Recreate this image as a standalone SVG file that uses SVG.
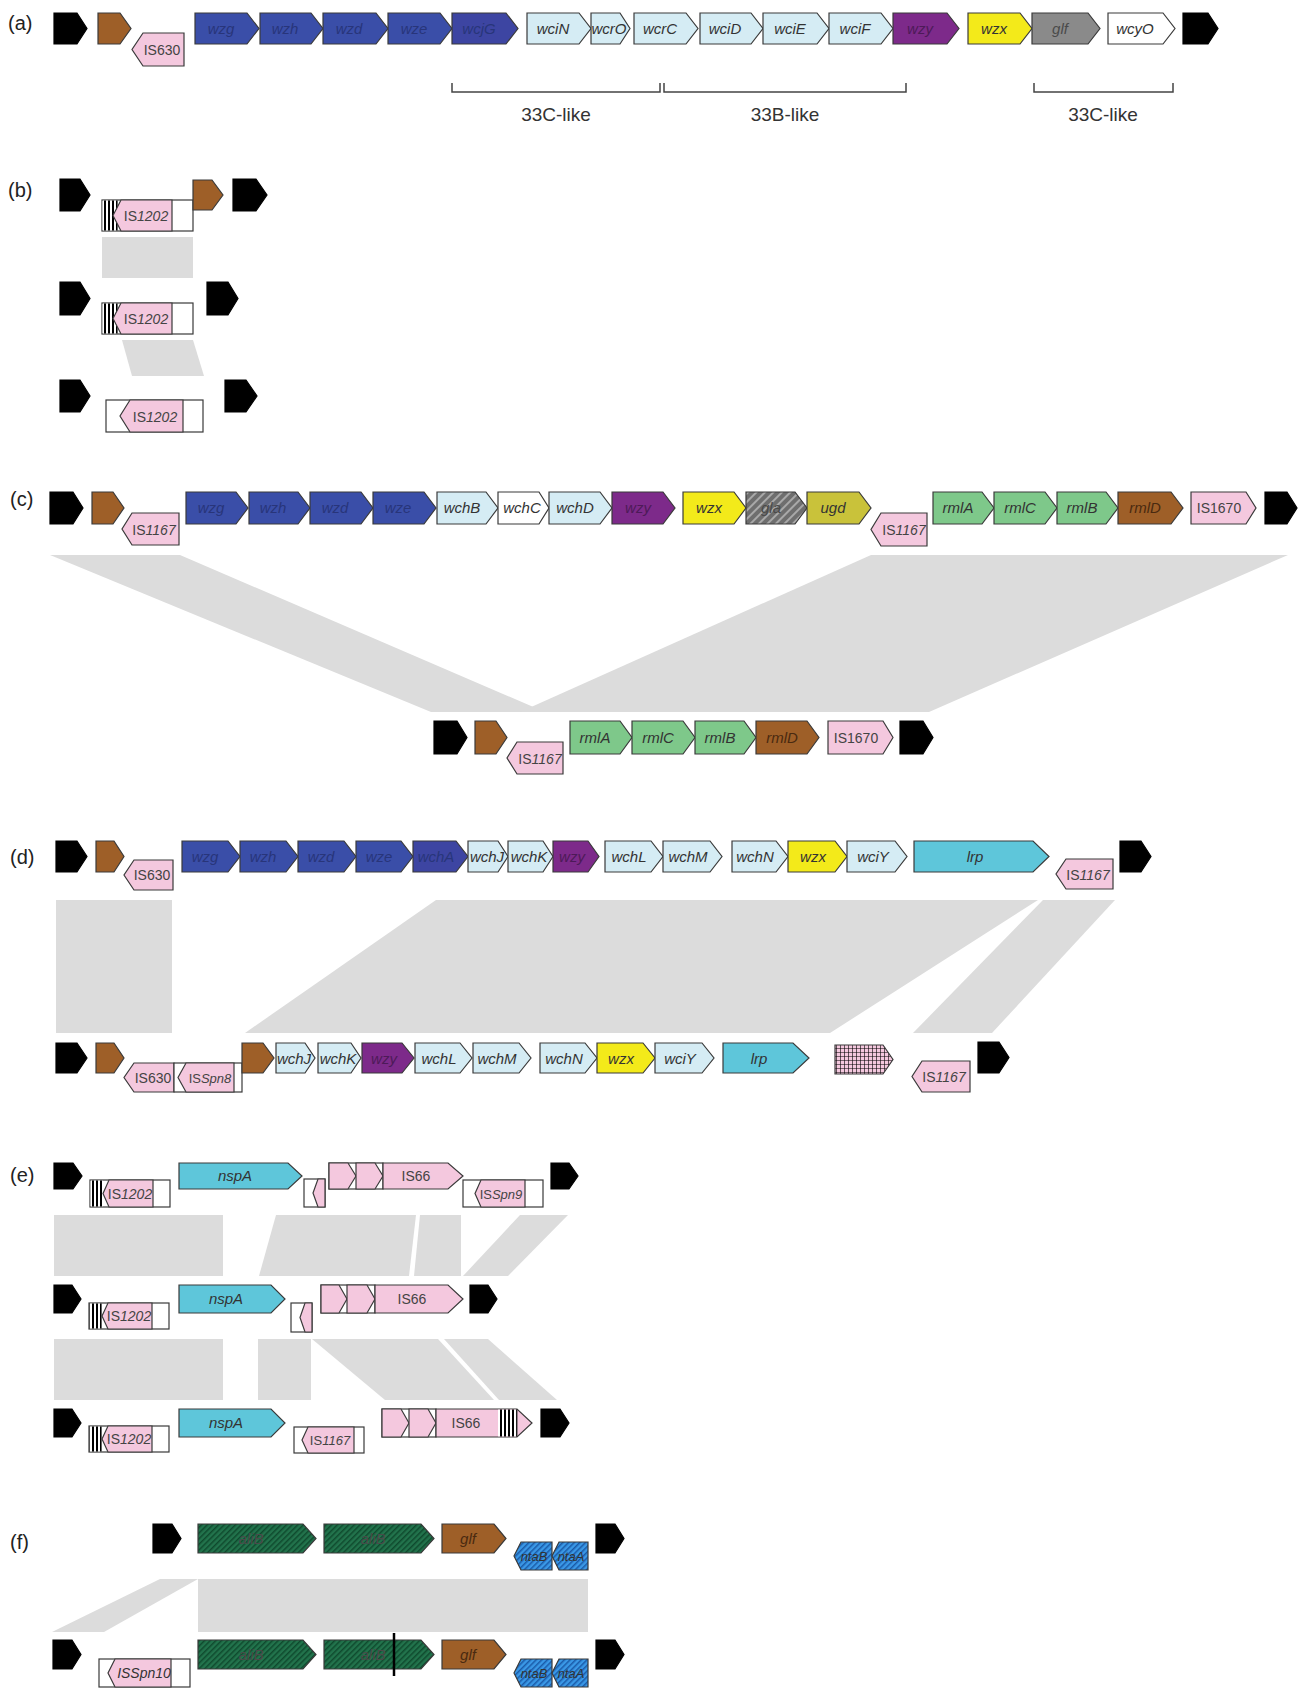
<svg xmlns="http://www.w3.org/2000/svg" width="1300" height="1690" viewBox="0 0 1300 1690">
<defs>
<style>
polygon,rect.o{stroke:#3a3a3a;stroke-width:1.2}
.k{fill:#000;stroke:#000}
.br{fill:#9e5f28}
.pk{fill:#f4c8de}
.db{fill:#3a4ea8}
.dp{fill:#3d45a2}
.lb{fill:#d5ecf4}
.pu{fill:#7d2a8a}
.ye{fill:#f3ea1a}
.gy{fill:#8a8a8a}
.wh{fill:#fff}
.gr{fill:#7ec88a}
.ol{fill:#c9c23a}
.te{fill:#5ec6da}
.band{fill:#dcdcdc;stroke:none}
text{font-family:'Liberation Sans',Arial,sans-serif}
.t{font-size:15px;font-style:italic;text-anchor:middle;fill:#333}
.td{font-size:15px;font-style:italic;text-anchor:middle;fill:#28357a}
.tp{font-size:15px;font-style:italic;text-anchor:middle;fill:#4d1a58}
.tg{font-size:15px;font-style:italic;text-anchor:middle;fill:#4a4a4a}
.ti{font-size:14px;text-anchor:middle;fill:#444}
.pl{font-size:20px;fill:#222}
.bl{font-size:19px;text-anchor:middle;fill:#333}
.brk{fill:none;stroke:#444;stroke-width:1.5}
</style>
<pattern id="vs" patternUnits="userSpaceOnUse" width="4" height="10"><rect width="4" height="10" fill="#fff"/><rect width="2" height="10" fill="#000"/></pattern>
<pattern id="hg" patternUnits="userSpaceOnUse" width="6" height="6" patternTransform="rotate(45)"><rect width="6" height="6" fill="#6e6e6e"/><rect width="2" height="6" fill="#a8a8a8"/></pattern>
<pattern id="ha" patternUnits="userSpaceOnUse" width="4" height="4" patternTransform="rotate(45)"><rect width="4" height="4" fill="#22734c"/><rect width="1.5" height="4" fill="#0f4a2e"/></pattern>
<pattern id="hn" patternUnits="userSpaceOnUse" width="4" height="4" patternTransform="rotate(45)"><rect width="4" height="4" fill="#3a98e6"/><rect width="1.5" height="4" fill="#1a5aa8"/></pattern>
<pattern id="grid" patternUnits="userSpaceOnUse" width="4" height="4"><rect width="4" height="4" fill="#f4c8de"/><path d="M0,0H4M0,0V4" stroke="#000" stroke-width="1.2"/></pattern>
</defs>
<rect width="1300" height="1690" fill="#fff"/>

<g id="bands">
<polygon class="band" points="102,237 193,237 193,278 102,278"/>
<polygon class="band" points="122,340 193,340 204,376 132,376"/>
<polygon class="band" points="50,555 180,555 545,712 431,712"/>
<polygon class="band" points="871,555 1288,555 929,712 520,712"/>
<polygon class="band" points="56,900 172,900 172,1033 56,1033"/>
<polygon class="band" points="436,900 1038,900 830,1033 245,1033"/>
<polygon class="band" points="1043,900 1115,900 992,1033 913,1033"/>
<polygon class="band" points="54,1215 223,1215 223,1276 54,1276"/>
<polygon class="band" points="276,1215 416,1215 409,1276 259,1276"/>
<polygon class="band" points="420,1215 461,1215 461,1276 414,1276"/>
<polygon class="band" points="520,1215 568,1215 508,1276 463,1276"/>
<polygon class="band" points="54,1339 223,1339 223,1400 54,1400"/>
<polygon class="band" points="258,1339 311,1339 311,1400 258,1400"/>
<polygon class="band" points="312,1339 438,1339 494,1400 385,1400"/>
<polygon class="band" points="444,1339 488,1339 557,1400 499,1400"/>
<polygon class="band" points="160,1579 198,1579 104,1632 52,1632"/>
<polygon class="band" points="198,1579 588,1579 588,1632 198,1632"/>
</g>

<g id="panel-a">
<text class="pl" x="8" y="30">(a)</text>
<polygon class="k" points="54,13 77,13 87,28.5 77,44 54,44"/>
<polygon class="br" points="98,13 120,13 131,28.5 120,44 98,44"/>
<g id="a-IS630"><polygon class="pk" points="184,33 143,33 132,49.5 143,66 184,66"/><text class="ti" x="162" y="55">IS630</text></g>
<g id="a-wzg"><polygon class="db" points="195,13 247,13 259,28.5 247,44 195,44"/><text class="td" x="221" y="34">wzg</text></g>
<g id="a-wzh"><polygon class="db" points="260,13 311,13 323,28.5 311,44 260,44"/><text class="td" x="285" y="34">wzh</text></g>
<g id="a-wzd"><polygon class="db" points="323,13 376,13 388,28.5 376,44 323,44"/><text class="td" x="349" y="34">wzd</text></g>
<g id="a-wze"><polygon class="db" points="388,13 440,13 452,28.5 440,44 388,44"/><text class="td" x="414" y="34">wze</text></g>
<g id="a-wcjG"><polygon class="dp" points="452,13 506,13 518,28.5 506,44 452,44"/><text class="td" x="479" y="34">wcjG</text></g>
<g id="a-wciN"><polygon class="lb" points="527,13 579,13 591,28.5 579,44 527,44"/><text class="t" x="553" y="34">wciN</text></g>
<g id="a-wcrO"><polygon class="lb" points="591,13 620,13 630,28.5 620,44 591,44"/><text class="t" x="609" y="34">wcrO</text></g>
<g id="a-wcrC"><polygon class="lb" points="634,13 686,13 698,28.5 686,44 634,44"/><text class="t" x="660" y="34">wcrC</text></g>
<g id="a-wciD"><polygon class="lb" points="700,13 751,13 763,28.5 751,44 700,44"/><text class="t" x="725" y="34">wciD</text></g>
<g id="a-wciE"><polygon class="lb" points="763,13 817,13 829,28.5 817,44 763,44"/><text class="t" x="790" y="34">wciE</text></g>
<g id="a-wciF"><polygon class="lb" points="829,13 881,13 893,28.5 881,44 829,44"/><text class="t" x="855" y="34">wciF</text></g>
<g id="a-wzy"><polygon class="pu" points="893,13 947,13 959,28.5 947,44 893,44"/><text class="tp" x="920" y="34">wzy</text></g>
<g id="a-wzx"><polygon class="ye" points="968,13 1020,13 1032,28.5 1020,44 968,44"/><text class="t" x="994" y="34">wzx</text></g>
<g id="a-glf"><polygon class="gy" points="1032,13 1088,13 1100,28.5 1088,44 1032,44"/><text class="tg" x="1060" y="34">glf</text></g>
<g id="a-wcyO"><polygon class="wh" points="1108,13 1163,13 1175,28.5 1163,44 1108,44"/><text class="t" x="1135" y="34">wcyO</text></g>
<polygon class="k" points="1183,13 1208,13 1218,28.5 1208,44 1183,44"/>
<path class="brk" d="M452,83V92H660V83M664,83V92H906V83M1034,83V92H1173V83"/>
<text class="bl" x="556" y="121">33C-like</text>
<text class="bl" x="785" y="121">33B-like</text>
<text class="bl" x="1103" y="121">33C-like</text>
</g>

<g id="panel-b">
<text class="pl" x="8" y="197">(b)</text>
<polygon class="k" points="60,179 80,179 90,195 80,211 60,211"/>
<g id="b1-IS1202"><rect class="o" x="102" y="200" width="91" height="31" fill="#fff"/><rect x="102.6" y="200.6" width="15" height="29.8" fill="url(#vs)"/><polygon class="pk" points="172,200 121,200 113,215.5 121,231 172,231"/><text class="ti" x="146" y="221">IS<tspan font-style="italic">1202</tspan></text></g>
<polygon class="br" points="193,180 212,180 223,195 212,210 193,210"/>
<polygon class="k" points="233,179 256,179 267,195 256,211 233,211"/>
<polygon class="k" points="60,282 80,282 90,298.5 80,315 60,315"/>
<g id="b2-IS1202"><rect class="o" x="102" y="303" width="91" height="31" fill="#fff"/><rect x="102.6" y="303.6" width="15" height="29.8" fill="url(#vs)"/><polygon class="pk" points="172,303 121,303 113,318.5 121,334 172,334"/><text class="ti" x="146" y="324">IS<tspan font-style="italic">1202</tspan></text></g>
<polygon class="k" points="207,282 228,282 238,298.5 228,315 207,315"/>
<polygon class="k" points="60,380 80,380 90,396 80,412 60,412"/>
<g id="b3-IS1202"><rect class="o" x="106" y="400" width="97" height="32" fill="#fff"/><polygon class="pk" points="183,400 130,400 120,416 130,432 183,432"/><text class="ti" x="155" y="422">IS<tspan font-style="italic">1202</tspan></text></g>
<polygon class="k" points="225,380 246,380 257,396 246,412 225,412"/>
</g>

<g id="panel-c">
<text class="pl" x="10" y="506">(c)</text>
<polygon class="k" points="50,492 73,492 83,508 73,524 50,524"/>
<polygon class="br" points="92,492 113,492 124,508 113,524 92,524"/>
<g id="c-IS1167a"><polygon class="pk" points="179,513 132,513 122,529 132,545 179,545"/><text class="ti" x="154" y="535">IS<tspan font-style="italic">1167</tspan></text></g>
<g id="c-wzg"><polygon class="db" points="186,492 236,492 248,508 236,524 186,524"/><text class="td" x="211" y="513">wzg</text></g>
<g id="c-wzh"><polygon class="db" points="249,492 298,492 310,508 298,524 249,524"/><text class="td" x="273" y="513">wzh</text></g>
<g id="c-wzd"><polygon class="db" points="310,492 361,492 373,508 361,524 310,524"/><text class="td" x="335" y="513">wzd</text></g>
<g id="c-wze"><polygon class="db" points="373,492 424,492 436,508 424,524 373,524"/><text class="td" x="398" y="513">wze</text></g>
<g id="c-wchB"><polygon class="lb" points="437,492 486,492 498,508 486,524 437,524"/><text class="t" x="462" y="513">wchB</text></g>
<g id="c-wchC"><polygon class="wh" points="498,492 539,492 549,508 539,524 498,524"/><text class="t" x="522" y="513">wchC</text></g>
<g id="c-wchD"><polygon class="lb" points="549,492 600,492 612,508 600,524 549,524"/><text class="t" x="575" y="513">wchD</text></g>
<g id="c-wzy"><polygon class="pu" points="612,492 663,492 675,508 663,524 612,524"/><text class="tp" x="638" y="513">wzy</text></g>
<g id="c-wzx"><polygon class="ye" points="683,492 734,492 746,508 734,524 683,524"/><text class="t" x="709" y="513">wzx</text></g>
<g id="c-gla"><polygon fill="url(#hg)" points="746,492 795,492 807,508 795,524 746,524"/><text class="tg" x="771" y="513">gla</text></g>
<g id="c-ugd"><polygon class="ol" points="807,492 859,492 871,508 859,524 807,524"/><text class="t" x="833" y="513">ugd</text></g>
<g id="c-IS1167b"><polygon class="pk" points="927,513 881,513 871,529.5 881,546 927,546"/><text class="ti" x="904" y="535">IS<tspan font-style="italic">1167</tspan></text></g>
<g id="c-rmlA"><polygon class="gr" points="933,492 982,492 994,508 982,524 933,524"/><text class="t" x="958" y="513">rmlA</text></g>
<g id="c-rmlC"><polygon class="gr" points="994,492 1045,492 1057,508 1045,524 994,524"/><text class="t" x="1020" y="513">rmlC</text></g>
<g id="c-rmlB"><polygon class="gr" points="1057,492 1106,492 1118,508 1106,524 1057,524"/><text class="t" x="1082" y="513">rmlB</text></g>
<g id="c-rmlD"><polygon class="br" points="1118,492 1171,492 1183,508 1171,524 1118,524"/><text class="t" x="1145" y="513" style="fill:#4a2a10">rmlD</text></g>
<g id="c-IS1670"><polygon class="pk" points="1191,492 1246,492 1256,508 1246,524 1191,524"/><text class="ti" x="1219" y="513">IS1670</text></g>
<polygon class="k" points="1265,492 1287,492 1297,508 1287,524 1265,524"/>

<polygon class="k" points="434,721 457,721 467,737.5 457,754 434,754"/>
<polygon class="br" points="475,721 496,721 507,737.5 496,754 475,754"/>
<g id="c2-IS1167"><polygon class="pk" points="563,742 517,742 507,758 517,774 563,774"/><text class="ti" x="540" y="764">IS<tspan font-style="italic">1167</tspan></text></g>
<g id="c2-rmlA"><polygon class="gr" points="570,721 620,721 632,737.5 620,754 570,754"/><text class="t" x="595" y="743">rmlA</text></g>
<g id="c2-rmlC"><polygon class="gr" points="632,721 683,721 695,737.5 683,754 632,754"/><text class="t" x="658" y="743">rmlC</text></g>
<g id="c2-rmlB"><polygon class="gr" points="695,721 744,721 756,737.5 744,754 695,754"/><text class="t" x="720" y="743">rmlB</text></g>
<g id="c2-rmlD"><polygon class="br" points="756,721 807,721 819,737.5 807,754 756,754"/><text class="t" x="782" y="743" style="fill:#4a2a10">rmlD</text></g>
<g id="c2-IS1670"><polygon class="pk" points="828,721 883,721 893,737.5 883,754 828,754"/><text class="ti" x="856" y="743">IS1670</text></g>
<polygon class="k" points="900,721 923,721 933,737.5 923,754 900,754"/>
</g>

<g id="panel-d">
<text class="pl" x="10" y="864">(d)</text>
<polygon class="k" points="56,841 77,841 87,856.5 77,872 56,872"/>
<polygon class="br" points="96,841 114,841 124,856.5 114,872 96,872"/>
<g id="d-IS630"><polygon class="pk" points="173,860 134,860 124,875 134,890 173,890"/><text class="ti" x="152" y="880">IS630</text></g>
<g id="d-wzg"><polygon class="db" points="182,841 228,841 240,856.5 228,872 182,872"/><text class="td" x="205" y="862">wzg</text></g>
<g id="d-wzh"><polygon class="db" points="240,841 286,841 298,856.5 286,872 240,872"/><text class="td" x="263" y="862">wzh</text></g>
<g id="d-wzd"><polygon class="db" points="298,841 344,841 356,856.5 344,872 298,872"/><text class="td" x="321" y="862">wzd</text></g>
<g id="d-wze"><polygon class="db" points="356,841 401,841 413,856.5 401,872 356,872"/><text class="td" x="379" y="862">wze</text></g>
<g id="d-wchA"><polygon class="dp" points="413,841 456,841 468,856.5 456,872 413,872"/><text class="td" x="436" y="862">wchA</text></g>
<g id="d-wchJ"><polygon class="lb" points="468,841 498,841 508,856.5 498,872 468,872"/><text class="t" x="487" y="862">wchJ</text></g>
<g id="d-wchK"><polygon class="lb" points="508,841 543,841 553,856.5 543,872 508,872"/><text class="t" x="529" y="862">wchK</text></g>
<g id="d-wzy"><polygon class="pu" points="553,841 588,841 599,856.5 588,872 553,872"/><text class="tp" x="572" y="862">wzy</text></g>
<g id="d-wchL"><polygon class="lb" points="605,841 651,841 663,856.5 651,872 605,872"/><text class="t" x="629" y="862">wchL</text></g>
<g id="d-wchM"><polygon class="lb" points="663,841 710,841 722,856.5 710,872 663,872"/><text class="t" x="688" y="862">wchM</text></g>
<g id="d-wchN"><polygon class="lb" points="732,841 776,841 788,856.5 776,872 732,872"/><text class="t" x="755" y="862">wchN</text></g>
<g id="d-wzx"><polygon class="ye" points="788,841 835,841 847,856.5 835,872 788,872"/><text class="t" x="813" y="862">wzx</text></g>
<g id="d-wciY"><polygon class="lb" points="847,841 895,841 907,856.5 895,872 847,872"/><text class="t" x="873" y="862">wciY</text></g>
<g id="d-lrp"><polygon class="te" points="914,841 1033,841 1049,856.5 1033,872 914,872"/><text class="t" x="975" y="862">lrp</text></g>
<g id="d-IS1167"><polygon class="pk" points="1113,859 1066,859 1056,874 1066,889 1113,889"/><text class="ti" x="1088" y="880">IS<tspan font-style="italic">1167</tspan></text></g>
<polygon class="k" points="1120,841 1141,841 1151,856.5 1141,872 1120,872"/>

<polygon class="k" points="56,1043 77,1043 87,1058 77,1073 56,1073"/>
<polygon class="br" points="96,1043 114,1043 124,1058 114,1073 96,1073"/>
<g id="d2-IS630"><polygon class="pk" points="174,1063 134,1063 124,1077.5 134,1092 174,1092"/><text class="ti" x="153" y="1083">IS630</text></g>
<g id="d2-ISSpn8"><rect class="o" x="174" y="1063" width="68" height="29" fill="#fff"/><polygon class="pk" points="234,1063 186,1063 178,1077.5 186,1092 234,1092"/><text class="ti" x="210" y="1083" style="font-size:13px">IS<tspan font-style="italic">Spn8</tspan></text></g>
<polygon class="br" points="242,1043 263,1043 274,1058 263,1073 242,1073"/>
<g id="d2-wchJ"><polygon class="lb" points="276,1043 305,1043 315,1058 305,1073 276,1073"/><text class="t" x="294" y="1064">wchJ</text></g>
<g id="d2-wchK"><polygon class="lb" points="318,1043 351,1043 361,1058 351,1073 318,1073"/><text class="t" x="338" y="1064">wchK</text></g>
<g id="d2-wzy"><polygon class="pu" points="362,1043 402,1043 414,1058 402,1073 362,1073"/><text class="tp" x="384" y="1064">wzy</text></g>
<g id="d2-wchL"><polygon class="lb" points="415,1043 460,1043 472,1058 460,1073 415,1073"/><text class="t" x="439" y="1064">wchL</text></g>
<g id="d2-wchM"><polygon class="lb" points="473,1043 519,1043 531,1058 519,1073 473,1073"/><text class="t" x="497" y="1064">wchM</text></g>
<g id="d2-wchN"><polygon class="lb" points="540,1043 585,1043 597,1058 585,1073 540,1073"/><text class="t" x="564" y="1064">wchN</text></g>
<g id="d2-wzx"><polygon class="ye" points="597,1043 643,1043 655,1058 643,1073 597,1073"/><text class="t" x="621" y="1064">wzx</text></g>
<g id="d2-wciY"><polygon class="lb" points="655,1043 702,1043 714,1058 702,1073 655,1073"/><text class="t" x="680" y="1064">wciY</text></g>
<g id="d2-lrp"><polygon class="te" points="723,1043 793,1043 809,1058 793,1073 723,1073"/><text class="t" x="759" y="1064">lrp</text></g>
<g id="d2-grid"><polygon fill="url(#grid)" points="835,1045 883,1045 893,1059.5 883,1074 835,1074"/></g>
<g id="d2-IS1167"><polygon class="pk" points="970,1061 922,1061 912,1076.5 922,1092 970,1092"/><text class="ti" x="944" y="1082">IS<tspan font-style="italic">1167</tspan></text></g>
<polygon class="k" points="978,1042 999,1042 1009,1057.5 999,1073 978,1073"/>
</g>

<g id="panel-e">
<text class="pl" x="10" y="1182">(e)</text>
<polygon class="k" points="54,1163 73,1163 82,1176 73,1189 54,1189"/>
<g id="e1-IS1202"><rect class="o" x="90" y="1180" width="80" height="27" fill="#fff"/><rect x="90.6" y="1180.6" width="12" height="25.8" fill="url(#vs)"/><polygon class="pk" points="153,1180 109,1180 103,1193.5 109,1207 153,1207"/><text class="ti" x="130" y="1199">IS<tspan font-style="italic">1202</tspan></text></g>
<g id="e1-nspA"><polygon class="te" points="179,1163 288,1163 302,1176 288,1189 179,1189"/><text class="t" x="235" y="1181">nspA</text></g>
<g id="e1-frag"><rect class="o" x="304" y="1179" width="21" height="28" fill="#fff"/><polygon class="pk" points="325,1179 318,1179 313,1193 318,1207 325,1207"/></g>
<g id="e1-IS66"><rect class="o" x="329" y="1163" width="54" height="26" fill="#fff"/><polygon class="pk" points="329,1163 348,1163 356,1176 348,1189 329,1189"/><polygon class="pk" points="356,1163 375,1163 383,1176 375,1189 356,1189"/><polygon class="pk" points="383,1163 448,1163 463,1176 448,1189 383,1189"/><text class="ti" x="416" y="1181">IS66</text></g>
<g id="e1-ISSpn9"><rect class="o" x="463" y="1180" width="80" height="27" fill="#fff"/><polygon class="pk" points="525,1180 481,1180 475,1193.5 481,1207 525,1207"/><text class="ti" x="501" y="1199" style="font-size:13px">IS<tspan font-style="italic">Spn9</tspan></text></g>
<polygon class="k" points="551,1163 569,1163 578,1176 569,1189 551,1189"/>

<polygon class="k" points="54,1285 72,1285 81,1299 72,1313 54,1313"/>
<g id="e2-IS1202"><rect class="o" x="89" y="1303" width="80" height="26" fill="#fff"/><rect x="89.6" y="1303.6" width="12" height="24.8" fill="url(#vs)"/><polygon class="pk" points="152,1303 108,1303 102,1316 108,1329 152,1329"/><text class="ti" x="129" y="1321">IS<tspan font-style="italic">1202</tspan></text></g>
<g id="e2-nspA"><polygon class="te" points="179,1285 271,1285 285,1299 271,1313 179,1313"/><text class="t" x="226" y="1304">nspA</text></g>
<g id="e2-frag"><rect class="o" x="291" y="1303" width="21" height="29" fill="#fff"/><polygon class="pk" points="312,1303 305,1303 300,1317.5 305,1332 312,1332"/></g>
<g id="e2-IS66"><rect class="o" x="321" y="1285" width="54" height="28" fill="#fff"/><polygon class="pk" points="321,1285 339,1285 347,1299 339,1313 321,1313"/><polygon class="pk" points="347,1285 367,1285 375,1299 367,1313 347,1313"/><polygon class="pk" points="375,1285 448,1285 463,1299 448,1313 375,1313"/><text class="ti" x="412" y="1304">IS66</text></g>
<polygon class="k" points="470,1285 488,1285 497,1299 488,1313 470,1313"/>

<polygon class="k" points="54,1409 72,1409 81,1423 72,1437 54,1437"/>
<g id="e3-IS1202"><rect class="o" x="89" y="1426" width="80" height="26" fill="#fff"/><rect x="89.6" y="1426.6" width="12" height="24.8" fill="url(#vs)"/><polygon class="pk" points="152,1426 108,1426 102,1439 108,1452 152,1452"/><text class="ti" x="129" y="1444">IS<tspan font-style="italic">1202</tspan></text></g>
<g id="e3-nspA"><polygon class="te" points="179,1409 271,1409 285,1423 271,1437 179,1437"/><text class="t" x="226" y="1428">nspA</text></g>
<g id="e3-IS1167"><rect class="o" x="294" y="1427" width="70" height="26" fill="#fff"/><polygon class="pk" points="354,1427 308,1427 302,1440 308,1453 354,1453"/><text class="ti" x="330" y="1445" style="font-size:13px">IS<tspan font-style="italic">1167</tspan></text></g>
<g id="e3-IS66"><rect class="o" x="382" y="1409" width="54" height="28" fill="#fff"/><polygon class="pk" points="382,1409 401,1409 409,1423 401,1437 382,1437"/><polygon class="pk" points="409,1409 428,1409 436,1423 428,1437 409,1437"/><polygon class="pk" points="436,1409 517,1409 532,1423 517,1437 436,1437"/><rect x="498" y="1409.6" width="19" height="26.8" fill="url(#vs)"/><line x1="517" y1="1409" x2="517" y2="1437" stroke="#3a3a3a"/><text class="ti" x="466" y="1428">IS66</text></g>
<polygon class="k" points="541,1409 560,1409 569,1423 560,1437 541,1437"/>
</g>

<g id="panel-f">
<text class="pl" x="10" y="1549">(f)</text>
<polygon class="k" points="153,1524 172,1524 181,1538.5 172,1553 153,1553"/>
<g id="f1-aliB1"><polygon fill="url(#ha)" points="198,1524 303,1524 316,1538.5 303,1553 198,1553"/><text class="tg" x="251" y="1544">aliB</text></g>
<g id="f1-aliB2"><polygon fill="url(#ha)" points="324,1524 421,1524 434,1538.5 421,1553 324,1553"/><text class="tg" x="373" y="1544">aliB</text></g>
<g id="f1-glf"><polygon class="br" points="442,1524 494,1524 506,1538.5 494,1553 442,1553"/><text class="t" x="468" y="1544" style="fill:#4a2a10">glf</text></g>
<g id="f1-ntaB"><polygon fill="url(#hn)" points="552,1542 521,1542 514,1556 521,1570 552,1570"/><text class="t" x="534" y="1561" style="font-size:13px">ntaB</text></g>
<g id="f1-ntaA"><polygon fill="url(#hn)" points="588,1542 559,1542 552,1556 559,1570 588,1570"/><text class="t" x="571" y="1561" style="font-size:13px">ntaA</text></g>
<polygon class="k" points="596,1524 615,1524 624,1538.5 615,1553 596,1553"/>

<polygon class="k" points="53,1640 72,1640 81,1654.5 72,1669 53,1669"/>
<g id="f2-ISSpn10"><rect class="o" x="99" y="1659" width="91" height="28" fill="#fff"/><polygon class="pk" points="171,1659 115,1659 108,1673 115,1687 171,1687"/><text class="t" x="144" y="1678" style="font-size:14px">ISSpn10</text></g>
<g id="f2-aliB1"><polygon fill="url(#ha)" points="198,1640 303,1640 316,1654.5 303,1669 198,1669"/><text class="tg" x="251" y="1660">aliB</text></g>
<g id="f2-aliB2"><polygon fill="url(#ha)" points="324,1640 421,1640 434,1654.5 421,1669 324,1669"/><text class="tg" x="373" y="1660">aliB</text><line x1="394" y1="1633" x2="394" y2="1676" stroke="#000" stroke-width="2.5"/></g>
<g id="f2-glf"><polygon class="br" points="442,1640 494,1640 506,1654.5 494,1669 442,1669"/><text class="t" x="468" y="1660" style="fill:#4a2a10">glf</text></g>
<g id="f2-ntaB"><polygon fill="url(#hn)" points="552,1659 521,1659 514,1673 521,1687 552,1687"/><text class="t" x="534" y="1678" style="font-size:13px">ntaB</text></g>
<g id="f2-ntaA"><polygon fill="url(#hn)" points="588,1659 559,1659 552,1673 559,1687 588,1687"/><text class="t" x="571" y="1678" style="font-size:13px">ntaA</text></g>
<polygon class="k" points="596,1640 615,1640 624,1654.5 615,1669 596,1669"/>
</g>
</svg>
